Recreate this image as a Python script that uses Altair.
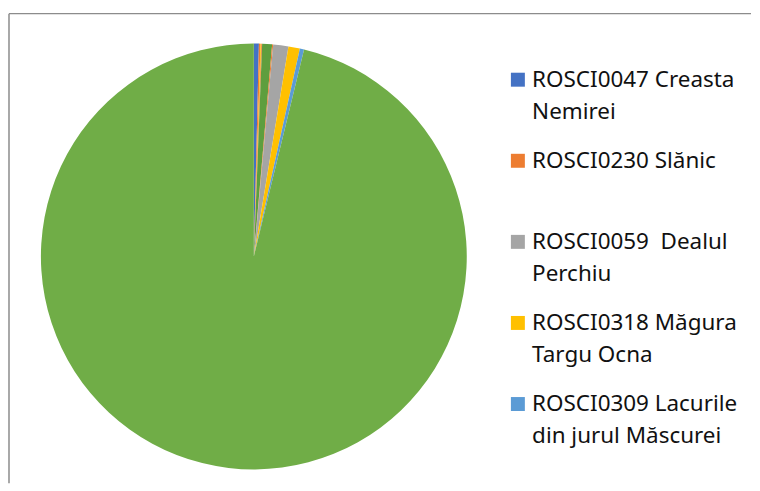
import altair as alt
import pandas as pd

# Slices in clockwise order from 12 o'clock (percent of total area)
categories = [
    "ROSCI0047 Creasta Nemirei",
    "ROSCI0230 Slănic",
    "Sit 3",
    "Sit 4",
    "Sit 5",
    "Sit 6",
    "ROSCI0059  Dealul Perchiu",
    "ROSCI0318 Măgura Targu Ocna",
    "ROSCI0309 Lacurile din jurul Măscurei",
    "Sit 10",
]
values = [0.38, 0.12, 0.06, 0.06, 0.75, 0.08, 1.15, 0.87, 0.32, 96.21]
colors = ["#4472C4", "#ED7D31", "#FFC000", "#ED7D31", "#5E9E3E", "#ED7D31",
          "#A5A5A5", "#FFC000", "#5B9BD5", "#70AD47"]

legend_items = [
    "ROSCI0047 Creasta Nemirei",
    "ROSCI0230 Slănic",
    "ROSCI0059  Dealul Perchiu",
    "ROSCI0318 Măgura Targu Ocna",
    "ROSCI0309 Lacurile din jurul Măscurei",
]
legend_lines = {
    "ROSCI0047 Creasta Nemirei": ["ROSCI0047 Creasta", "Nemirei"],
    "ROSCI0230 Slănic": ["ROSCI0230 Slănic", ""],
    "ROSCI0059  Dealul Perchiu": ["ROSCI0059\u00a0 Dealul", "Perchiu"],
    "ROSCI0318 Măgura Targu Ocna": ["ROSCI0318 Măgura", "Targu Ocna"],
    "ROSCI0309 Lacurile din jurul Măscurei": ["ROSCI0309 Lacurile", "din jurul Măscurei"],
}

df = pd.DataFrame({"site": categories, "value": values, "idx": list(range(len(categories)))})

expr = "''"
for k in reversed(legend_items):
    a, b = legend_lines[k]
    expr = f"datum.label == '{k}' ? ['{a}', '{b}'] : ({expr})"

FONT = "Noto Sans"
W, H = 744, 471

pie = alt.Chart(df).mark_arc(radius=213.5, strokeWidth=0).encode(
    theta=alt.Theta("value:Q", stack=True),
    color=alt.Color(
        "site:N",
        scale=alt.Scale(domain=categories, range=colors),
        sort=categories,
        legend=alt.Legend(
            title=None,
            orient="none",
            legendX=499,
            legendY=55,
            values=legend_items,
            symbolType="square",
            symbolSize=196,
            symbolStrokeWidth=0,
            labelFont=FONT,
            labelFontSize=22.5,
            labelColor="#111111",
            labelLimit=400,
            labelOffset=3,
            labelBaseline="middle",
            rowPadding=26.3,
            labelExpr=expr,
        ),
    ),
    order=alt.Order("idx:Q"),
    x=alt.value(245.5),
    y=alt.value(243.5),
)

frame_df = pd.DataFrame({"edge": [0]})
top_edge = alt.Chart(frame_df).mark_rule(color="#8C8C8C", strokeWidth=1.5).encode(
    x=alt.value(0), x2=alt.value(W), y=alt.value(0)
)
left_edge = alt.Chart(frame_df).mark_rule(color="#8C8C8C", strokeWidth=1.5).encode(
    x=alt.value(0), y=alt.value(0), y2=alt.value(H)
)

chart = alt.layer(pie, top_edge, left_edge).properties(
    width=W,
    height=H,
    padding={"left": 0, "top": 4, "right": 0, "bottom": 0},
).configure(
    background="white",
    style={"guide-label": {"lineHeight": 32}},
).configure_view(
    stroke="transparent",
    strokeWidth=0,
)

chart.save("out.html", embed_options={"renderer": "svg", "actions": False})
